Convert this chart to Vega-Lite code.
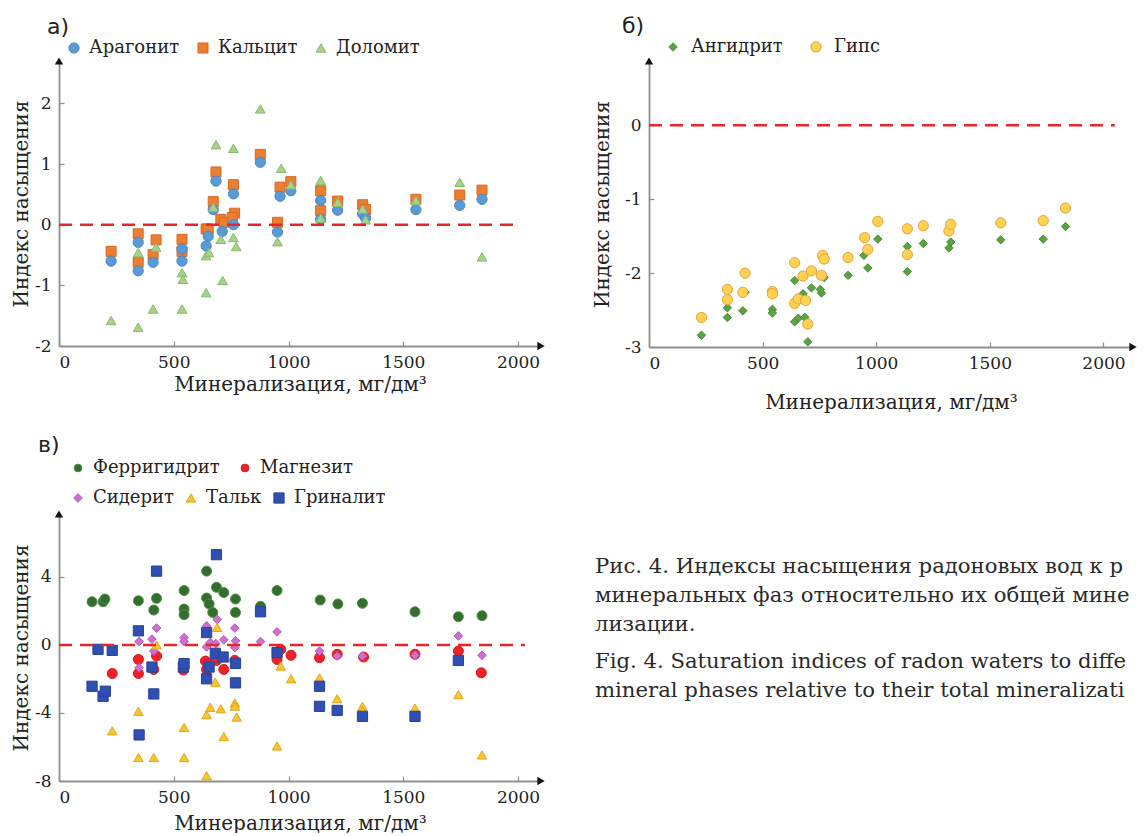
{
  "$schema": "https://vega.github.io/schema/vega-lite/v6.json",
  "padding": {"left": 11, "top": 15, "right": 0, "bottom": 0},
  "background": "white",
  "datasets": {
    "a": [
      {"m": "Кальцит", "x": 227, "y": -0.44}, {"m": "Кальцит", "x": 345, "y": -0.15}, {"m": "Кальцит", "x": 345, "y": -0.62}, {"m": "Кальцит", "x": 423, "y": -0.25}, {"m": "Кальцит", "x": 410, "y": -0.49}, {"m": "Кальцит", "x": 536, "y": -0.24}, {"m": "Кальцит", "x": 536, "y": -0.44}, {"m": "Кальцит", "x": 641, "y": -0.07}, {"m": "Кальцит", "x": 650, "y": -0.07}, {"m": "Кальцит", "x": 672, "y": 0.38}, {"m": "Кальцит", "x": 684, "y": 0.87}, {"m": "Кальцит", "x": 705, "y": 0.09}, {"m": "Кальцит", "x": 720, "y": 0.04}, {"m": "Кальцит", "x": 760, "y": 0.66}, {"m": "Кальцит", "x": 765, "y": 0.19}, {"m": "Кальцит", "x": 755, "y": 0.12}, {"m": "Кальцит", "x": 877, "y": 1.16}, {"m": "Кальцит", "x": 952, "y": 0.04}, {"m": "Кальцит", "x": 963, "y": 0.62}, {"m": "Кальцит", "x": 1010, "y": 0.71}, {"m": "Кальцит", "x": 1140, "y": 0.56}, {"m": "Кальцит", "x": 1140, "y": 0.23}, {"m": "Кальцит", "x": 1214, "y": 0.39}, {"m": "Кальцит", "x": 1323, "y": 0.33}, {"m": "Кальцит", "x": 1336, "y": 0.25}, {"m": "Кальцит", "x": 1555, "y": 0.42}, {"m": "Кальцит", "x": 1746, "y": 0.49}, {"m": "Кальцит", "x": 1843, "y": 0.57},
      {"m": "Арагонит", "x": 227, "y": -0.6}, {"m": "Арагонит", "x": 345, "y": -0.29}, {"m": "Арагонит", "x": 345, "y": -0.76}, {"m": "Арагонит", "x": 410, "y": -0.62}, {"m": "Арагонит", "x": 536, "y": -0.4}, {"m": "Арагонит", "x": 536, "y": -0.6}, {"m": "Арагонит", "x": 641, "y": -0.35}, {"m": "Арагонит", "x": 650, "y": -0.19}, {"m": "Арагонит", "x": 684, "y": 0.72}, {"m": "Арагонит", "x": 672, "y": 0.25}, {"m": "Арагонит", "x": 711, "y": -0.11}, {"m": "Арагонит", "x": 760, "y": 0.51}, {"m": "Арагонит", "x": 760, "y": 0.0}, {"m": "Арагонит", "x": 877, "y": 1.03}, {"m": "Арагонит", "x": 952, "y": -0.12}, {"m": "Арагонит", "x": 963, "y": 0.47}, {"m": "Арагонит", "x": 1010, "y": 0.56}, {"m": "Арагонит", "x": 1140, "y": 0.4}, {"m": "Арагонит", "x": 1140, "y": 0.09}, {"m": "Арагонит", "x": 1214, "y": 0.24}, {"m": "Арагонит", "x": 1323, "y": 0.18}, {"m": "Арагонит", "x": 1336, "y": 0.11}, {"m": "Арагонит", "x": 1555, "y": 0.25}, {"m": "Арагонит", "x": 1746, "y": 0.32}, {"m": "Арагонит", "x": 1843, "y": 0.42},
      {"m": "Доломит", "x": 227, "y": -1.58}, {"m": "Доломит", "x": 345, "y": -1.69}, {"m": "Доломит", "x": 345, "y": -0.46}, {"m": "Доломит", "x": 410, "y": -1.39}, {"m": "Доломит", "x": 423, "y": -0.37}, {"m": "Доломит", "x": 536, "y": -0.79}, {"m": "Доломит", "x": 540, "y": -0.9}, {"m": "Доломит", "x": 536, "y": -1.39}, {"m": "Доломит", "x": 641, "y": -1.12}, {"m": "Доломит", "x": 641, "y": -0.51}, {"m": "Доломит", "x": 653, "y": -0.46}, {"m": "Доломит", "x": 684, "y": 1.32}, {"m": "Доломит", "x": 672, "y": 0.29}, {"m": "Доломит", "x": 705, "y": -0.24}, {"m": "Доломит", "x": 713, "y": -0.92}, {"m": "Доломит", "x": 760, "y": 1.26}, {"m": "Доломит", "x": 760, "y": -0.21}, {"m": "Доломит", "x": 772, "y": -0.36}, {"m": "Доломит", "x": 877, "y": 1.91}, {"m": "Доломит", "x": 952, "y": -0.28}, {"m": "Доломит", "x": 968, "y": 0.93}, {"m": "Доломит", "x": 1010, "y": 0.66}, {"m": "Доломит", "x": 1140, "y": 0.73}, {"m": "Доломит", "x": 1140, "y": 0.11}, {"m": "Доломит", "x": 1214, "y": 0.37}, {"m": "Доломит", "x": 1323, "y": 0.26}, {"m": "Доломит", "x": 1336, "y": 0.08}, {"m": "Доломит", "x": 1555, "y": 0.4}, {"m": "Доломит", "x": 1746, "y": 0.7}, {"m": "Доломит", "x": 1843, "y": -0.53}
    ],
    "b": [
      {"m": "Ангидрит", "x": 231, "y": -2.84}, {"m": "Ангидрит", "x": 345, "y": -2.47}, {"m": "Ангидрит", "x": 345, "y": -2.6}, {"m": "Ангидрит", "x": 413, "y": -2.51}, {"m": "Ангидрит", "x": 423, "y": -2.26}, {"m": "Ангидрит", "x": 543, "y": -2.49}, {"m": "Ангидрит", "x": 543, "y": -2.54}, {"m": "Ангидрит", "x": 641, "y": -2.1}, {"m": "Ангидрит", "x": 641, "y": -2.66}, {"m": "Ангидрит", "x": 657, "y": -2.61}, {"m": "Ангидрит", "x": 678, "y": -2.28}, {"m": "Ангидрит", "x": 686, "y": -2.6}, {"m": "Ангидрит", "x": 699, "y": -2.93}, {"m": "Ангидрит", "x": 715, "y": -2.2}, {"m": "Ангидрит", "x": 759, "y": -2.27}, {"m": "Ангидрит", "x": 754, "y": -2.22}, {"m": "Ангидрит", "x": 771, "y": -2.06}, {"m": "Ангидрит", "x": 876, "y": -2.03}, {"m": "Ангидрит", "x": 946, "y": -1.76}, {"m": "Ангидрит", "x": 963, "y": -1.93}, {"m": "Ангидрит", "x": 1007, "y": -1.54}, {"m": "Ангидрит", "x": 1137, "y": -1.64}, {"m": "Ангидрит", "x": 1137, "y": -1.98}, {"m": "Ангидрит", "x": 1207, "y": -1.6}, {"m": "Ангидрит", "x": 1320, "y": -1.66}, {"m": "Ангидрит", "x": 1328, "y": -1.58}, {"m": "Ангидрит", "x": 1548, "y": -1.55}, {"m": "Ангидрит", "x": 1735, "y": -1.54}, {"m": "Ангидрит", "x": 1833, "y": -1.37},
      {"m": "Гипс", "x": 231, "y": -2.6}, {"m": "Гипс", "x": 345, "y": -2.22}, {"m": "Гипс", "x": 345, "y": -2.36}, {"m": "Гипс", "x": 413, "y": -2.26}, {"m": "Гипс", "x": 423, "y": -2.0}, {"m": "Гипс", "x": 543, "y": -2.25}, {"m": "Гипс", "x": 543, "y": -2.28}, {"m": "Гипс", "x": 641, "y": -1.86}, {"m": "Гипс", "x": 641, "y": -2.41}, {"m": "Гипс", "x": 657, "y": -2.35}, {"m": "Гипс", "x": 678, "y": -2.04}, {"m": "Гипс", "x": 689, "y": -2.37}, {"m": "Гипс", "x": 699, "y": -2.69}, {"m": "Гипс", "x": 715, "y": -1.97}, {"m": "Гипс", "x": 759, "y": -2.03}, {"m": "Гипс", "x": 764, "y": -1.76}, {"m": "Гипс", "x": 771, "y": -1.81}, {"m": "Гипс", "x": 876, "y": -1.79}, {"m": "Гипс", "x": 949, "y": -1.52}, {"m": "Гипс", "x": 963, "y": -1.68}, {"m": "Гипс", "x": 1007, "y": -1.3}, {"m": "Гипс", "x": 1137, "y": -1.4}, {"m": "Гипс", "x": 1137, "y": -1.75}, {"m": "Гипс", "x": 1207, "y": -1.36}, {"m": "Гипс", "x": 1320, "y": -1.43}, {"m": "Гипс", "x": 1328, "y": -1.34}, {"m": "Гипс", "x": 1548, "y": -1.32}, {"m": "Гипс", "x": 1735, "y": -1.29}, {"m": "Гипс", "x": 1833, "y": -1.12}
    ],
    "v1": [
      {"m": "Ферригидрит", "x": 144, "y": 2.54}, {"m": "Ферригидрит", "x": 192, "y": 2.54}, {"m": "Ферригидрит", "x": 200, "y": 2.7}, {"m": "Ферригидрит", "x": 346, "y": 2.6}, {"m": "Ферригидрит", "x": 413, "y": 2.05}, {"m": "Ферригидрит", "x": 425, "y": 2.74}, {"m": "Ферригидрит", "x": 545, "y": 3.2}, {"m": "Ферригидрит", "x": 545, "y": 2.11}, {"m": "Ферригидрит", "x": 545, "y": 1.78}, {"m": "Ферригидрит", "x": 643, "y": 4.34}, {"m": "Ферригидрит", "x": 643, "y": 2.76}, {"m": "Ферригидрит", "x": 654, "y": 2.41}, {"m": "Ферригидрит", "x": 670, "y": 1.91}, {"m": "Ферригидрит", "x": 686, "y": 3.39}, {"m": "Ферригидрит", "x": 718, "y": 3.08}, {"m": "Ферригидрит", "x": 769, "y": 2.7}, {"m": "Ферригидрит", "x": 769, "y": 1.91}, {"m": "Ферригидрит", "x": 878, "y": 2.27}, {"m": "Ферригидрит", "x": 950, "y": 3.2}, {"m": "Ферригидрит", "x": 1138, "y": 2.64}, {"m": "Ферригидрит", "x": 1215, "y": 2.41}, {"m": "Ферригидрит", "x": 1322, "y": 2.45}, {"m": "Ферригидрит", "x": 1551, "y": 1.95}, {"m": "Ферригидрит", "x": 1740, "y": 1.66}, {"m": "Ферригидрит", "x": 1843, "y": 1.72},
      {"m": "Магнезит", "x": 232, "y": -1.68}, {"m": "Магнезит", "x": 346, "y": -0.85}, {"m": "Магнезит", "x": 346, "y": -1.68}, {"m": "Магнезит", "x": 413, "y": -1.44}, {"m": "Магнезит", "x": 425, "y": -0.65}, {"m": "Магнезит", "x": 542, "y": -1.08}, {"m": "Магнезит", "x": 542, "y": -1.48}, {"m": "Магнезит", "x": 638, "y": -0.95}, {"m": "Магнезит", "x": 643, "y": -1.44}, {"m": "Магнезит", "x": 654, "y": -1.1}, {"m": "Магнезит", "x": 686, "y": -0.91}, {"m": "Магнезит", "x": 718, "y": -1.44}, {"m": "Магнезит", "x": 766, "y": -0.91}, {"m": "Магнезит", "x": 950, "y": -0.85}, {"m": "Магнезит", "x": 966, "y": -0.26}, {"m": "Магнезит", "x": 1011, "y": -0.61}, {"m": "Магнезит", "x": 1135, "y": -0.75}, {"m": "Магнезит", "x": 1212, "y": -0.55}, {"m": "Магнезит", "x": 1327, "y": -0.71}, {"m": "Магнезит", "x": 1551, "y": -0.55}, {"m": "Магнезит", "x": 1740, "y": -0.36}, {"m": "Магнезит", "x": 1840, "y": -1.64}
    ],
    "v2": [
      {"m": "Сидерит", "x": 349, "y": 0.2}, {"m": "Сидерит", "x": 349, "y": -1.34}, {"m": "Сидерит", "x": 405, "y": 0.34}, {"m": "Сидерит", "x": 425, "y": 0.99}, {"m": "Сидерит", "x": 413, "y": -0.36}, {"m": "Сидерит", "x": 545, "y": 0.43}, {"m": "Сидерит", "x": 545, "y": 0.2}, {"m": "Сидерит", "x": 643, "y": 1.12}, {"m": "Сидерит", "x": 643, "y": -0.12}, {"m": "Сидерит", "x": 659, "y": 0.14}, {"m": "Сидерит", "x": 689, "y": 1.5}, {"m": "Сидерит", "x": 683, "y": 0.08}, {"m": "Сидерит", "x": 718, "y": 0.3}, {"m": "Сидерит", "x": 766, "y": 0.99}, {"m": "Сидерит", "x": 769, "y": 0.24}, {"m": "Сидерит", "x": 766, "y": -0.16}, {"m": "Сидерит", "x": 878, "y": 0.2}, {"m": "Сидерит", "x": 950, "y": 0.77}, {"m": "Сидерит", "x": 1135, "y": -0.36}, {"m": "Сидерит", "x": 1212, "y": -0.65}, {"m": "Сидерит", "x": 1322, "y": -0.65}, {"m": "Сидерит", "x": 1551, "y": -0.61}, {"m": "Сидерит", "x": 1740, "y": 0.53}, {"m": "Сидерит", "x": 1843, "y": -0.61},
      {"m": "Тальк", "x": 232, "y": -5.05}, {"m": "Тальк", "x": 346, "y": -3.9}, {"m": "Тальк", "x": 346, "y": -6.62}, {"m": "Тальк", "x": 413, "y": -6.62}, {"m": "Тальк", "x": 425, "y": 0.0}, {"m": "Тальк", "x": 545, "y": -4.85}, {"m": "Тальк", "x": 545, "y": -6.62}, {"m": "Тальк", "x": 643, "y": -7.69}, {"m": "Тальк", "x": 643, "y": -4.1}, {"m": "Тальк", "x": 659, "y": -3.67}, {"m": "Тальк", "x": 681, "y": -2.19}, {"m": "Тальк", "x": 689, "y": 1.03}, {"m": "Тальк", "x": 705, "y": -3.75}, {"m": "Тальк", "x": 718, "y": -5.39}, {"m": "Тальк", "x": 766, "y": -3.41}, {"m": "Тальк", "x": 766, "y": -3.6}, {"m": "Тальк", "x": 774, "y": -4.24}, {"m": "Тальк", "x": 950, "y": -5.94}, {"m": "Тальк", "x": 966, "y": -1.24}, {"m": "Тальк", "x": 1011, "y": -1.99}, {"m": "Тальк", "x": 1135, "y": -1.93}, {"m": "Тальк", "x": 1212, "y": -3.16}, {"m": "Тальк", "x": 1322, "y": -3.61}, {"m": "Тальк", "x": 1322, "y": -3.85}, {"m": "Тальк", "x": 1551, "y": -3.71}, {"m": "Тальк", "x": 1740, "y": -2.92}, {"m": "Тальк", "x": 1843, "y": -6.47},
      {"m": "Гриналит", "x": 144, "y": -2.43}, {"m": "Гриналит", "x": 170, "y": -0.26}, {"m": "Гриналит", "x": 192, "y": -3.02}, {"m": "Гриналит", "x": 202, "y": -2.72}, {"m": "Гриналит", "x": 232, "y": -0.32}, {"m": "Гриналит", "x": 346, "y": 0.83}, {"m": "Гриналит", "x": 349, "y": -5.29}, {"m": "Гриналит", "x": 405, "y": -1.3}, {"m": "Гриналит", "x": 413, "y": -2.88}, {"m": "Гриналит", "x": 425, "y": 4.34}, {"m": "Гриналит", "x": 542, "y": -1.3}, {"m": "Гриналит", "x": 545, "y": -1.1}, {"m": "Гриналит", "x": 643, "y": 0.73}, {"m": "Гриналит", "x": 643, "y": -1.99}, {"m": "Гриналит", "x": 654, "y": -1.3}, {"m": "Гриналит", "x": 686, "y": 5.31}, {"m": "Гриналит", "x": 681, "y": -0.49}, {"m": "Гриналит", "x": 715, "y": -0.71}, {"m": "Гриналит", "x": 769, "y": -1.08}, {"m": "Гриналит", "x": 769, "y": -2.23}, {"m": "Гриналит", "x": 878, "y": 1.95}, {"m": "Гриналит", "x": 950, "y": -0.45}, {"m": "Гриналит", "x": 1135, "y": -2.43}, {"m": "Гриналит", "x": 1135, "y": -3.61}, {"m": "Гриналит", "x": 1212, "y": -3.85}, {"m": "Гриналит", "x": 1322, "y": -4.2}, {"m": "Гриналит", "x": 1551, "y": -4.2}, {"m": "Гриналит", "x": 1740, "y": -0.91}
    ],
    "cap": [
      {"p": 1, "t": "Рис. 4. Индексы насыщения радоновых вод к ряду\nминеральных фаз относительно их общей минера-\nлизации."},
      {"p": 2, "t": "Fig. 4. Saturation indices of radon waters to different\nmineral phases relative to their total mineralization."}
    ]
  },
  "resolve": {"scale": {"color": "independent", "shape": "independent", "stroke": "independent", "size": "independent"}},
  "spacing": 22,
  "vconcat": [
    {
      "spacing": 47,
      "resolve": {"scale": {"color": "independent", "shape": "independent", "stroke": "independent", "size": "independent"}},
      "hconcat": [
        {
          "width": 482, "height": 285,
          "title": {"text": "а)", "frame": "group", "dx": -12, "offset": 0},
          "layer": [
            {
              "data": {"name": "a"},
              "mark": {"type": "point", "filled": true, "opacity": 1, "strokeWidth": 1},
              "encoding": {
                "x": {"field": "x", "type": "quantitative", "scale": {"domain": [0, 2100], "nice": false, "zero": false}, "axis": {"values": [0, 500, 1000, 1500, 2000], "title": "Минерализация, мг/дм³", "labelExpr": "datum.value + ''", "titlePadding": 4}},
                "y": {"field": "y", "type": "quantitative", "scale": {"domain": [-2, 2.7], "nice": false, "zero": false}, "axis": {"values": [-2, -1, 0, 1, 2], "title": "Индекс насыщения", "labelExpr": "datum.value + ''", "titlePadding": 3}},
                "color": {"field": "m", "type": "nominal", "scale": {"domain": ["Арагонит", "Кальцит", "Доломит"], "range": ["#5b9bd5", "#ed7d31", "#a9d18e"]}, "legend": {"title": null, "orient": "none", "legendX": 6, "legendY": -22, "direction": "horizontal", "columnPadding": 14}},
                "shape": {"field": "m", "type": "nominal", "scale": {"domain": ["Арагонит", "Кальцит", "Доломит"], "range": ["circle", "square", "triangle-up"]}, "legend": {"title": null, "orient": "none", "legendX": 6, "legendY": -22, "direction": "horizontal", "columnPadding": 14}},
                "stroke": {"field": "m", "type": "nominal", "scale": {"domain": ["Арагонит", "Кальцит", "Доломит"], "range": ["#4a86c0", "#d56a22", "#86bb6b"]}, "legend": {"title": null, "orient": "none", "legendX": 6, "legendY": -22, "direction": "horizontal", "columnPadding": 14}},
                "size": {"field": "m", "type": "nominal", "scale": {"domain": ["Арагонит", "Кальцит", "Доломит"], "range": [105, 95, 110]}, "legend": null}
              }
            },
            {"data": {"values": [{}]}, "mark": {"type": "rule", "color": "#e8262a", "strokeDash": [13, 8], "strokeWidth": 2.5}, "encoding": {"y": {"datum": 0}, "x": {"datum": 0}, "x2": {"datum": 1990}}},
            {"data": {"values": [{}]}, "mark": {"type": "point", "shape": "triangle-up", "filled": true, "color": "#111", "size": 70, "opacity": 1}, "encoding": {"x": {"datum": 0}, "y": {"datum": 2.7}}},
            {"data": {"values": [{}]}, "mark": {"type": "point", "shape": "triangle-right", "filled": true, "color": "#111", "size": 70, "opacity": 1}, "encoding": {"x": {"datum": 2100}, "y": {"datum": -2}}}
          ]
        },
        {
          "width": 484, "height": 286,
          "title": {"text": "б)", "frame": "group", "dx": -27, "offset": 0},
          "layer": [
            {
              "data": {"name": "b"},
              "mark": {"type": "point", "filled": true, "opacity": 1, "strokeWidth": 1},
              "encoding": {
                "x": {"field": "x", "type": "quantitative", "scale": {"domain": [0, 2130], "nice": false, "zero": false}, "axis": {"values": [0, 500, 1000, 1500, 2000], "title": "Минерализация, мг/дм³", "labelExpr": "datum.value + ''", "titlePadding": 21}},
                "y": {"field": "y", "type": "quantitative", "scale": {"domain": [-3, 0.87], "nice": false, "zero": false}, "axis": {"values": [-3, -2, -1, 0], "title": "Индекс насыщения", "labelExpr": "datum.value + ''", "titlePadding": 12}},
                "color": {"field": "m", "type": "nominal", "scale": {"domain": ["Ангидрит", "Гипс"], "range": ["#5aa340", "#ffd34f"]}, "legend": {"title": null, "orient": "none", "legendX": 15, "legendY": -23, "direction": "horizontal", "columnPadding": 24, "labelOffset": 9}},
                "shape": {"field": "m", "type": "nominal", "scale": {"domain": ["Ангидрит", "Гипс"], "range": ["diamond", "circle"]}, "legend": {"title": null, "orient": "none", "legendX": 15, "legendY": -23, "direction": "horizontal", "columnPadding": 24, "labelOffset": 9}},
                "stroke": {"field": "m", "type": "nominal", "scale": {"domain": ["Ангидрит", "Гипс"], "range": ["#4a8c33", "#e8a040"]}, "legend": {"title": null, "orient": "none", "legendX": 15, "legendY": -23, "direction": "horizontal", "columnPadding": 24, "labelOffset": 9}},
                "size": {"field": "m", "type": "nominal", "scale": {"domain": ["Ангидрит", "Гипс"], "range": [70, 105]}, "legend": null}
              }
            },
            {"data": {"values": [{}]}, "mark": {"type": "rule", "color": "#e8262a", "strokeDash": [13, 8], "strokeWidth": 2.5}, "encoding": {"y": {"datum": 0}, "x": {"datum": 0}, "x2": {"datum": 2050}}},
            {"data": {"values": [{}]}, "mark": {"type": "point", "shape": "triangle-up", "filled": true, "color": "#111", "size": 70, "opacity": 1}, "encoding": {"x": {"datum": 0}, "y": {"datum": 0.87}}},
            {"data": {"values": [{}]}, "mark": {"type": "point", "shape": "triangle-right", "filled": true, "color": "#111", "size": 70, "opacity": 1}, "encoding": {"x": {"datum": 2130}, "y": {"datum": -3}}}
          ]
        }
      ]
    },
    {
      "spacing": 50,
      "resolve": {"scale": {"color": "independent", "shape": "independent", "stroke": "independent", "size": "independent"}},
      "hconcat": [
        {
          "width": 482, "height": 267,
          "title": {"text": "в)", "frame": "group", "dx": -21, "offset": 2},
          "layer": [
            {
              "data": {"name": "v1"},
              "mark": {"type": "point", "filled": true, "opacity": 1, "strokeWidth": 1, "size": 100},
              "encoding": {
                "x": {"field": "x", "type": "quantitative", "scale": {"domain": [0, 2100], "nice": false, "zero": false}, "axis": {"values": [0, 500, 1000, 1500, 2000], "title": "Минерализация, мг/дм³", "labelExpr": "datum.value + ''", "titlePadding": 8}},
                "y": {"field": "y", "type": "quantitative", "scale": {"domain": [-8, 7.7], "nice": false, "zero": false}, "axis": {"values": [-8, -6, -4, -2, 0, 2, 4, 6], "title": "Индекс насыщения", "labelExpr": "datum.value + ''", "titlePadding": 3, "labelOverlap": false, "labelSeparation": 0}},
                "color": {"field": "m", "type": "nominal", "scale": {"domain": ["Ферригидрит", "Магнезит"], "range": ["#336e2e", "#ee2228"]}, "legend": {"title": null, "orient": "none", "legendX": 10, "legendY": -55, "direction": "horizontal", "columnPadding": 16}},
                "shape": {"field": "m", "type": "nominal", "scale": {"domain": ["Ферригидрит", "Магнезит"], "range": ["circle", "circle"]}, "legend": {"title": null, "orient": "none", "legendX": 10, "legendY": -55, "direction": "horizontal", "columnPadding": 16}},
                "stroke": {"field": "m", "type": "nominal", "scale": {"domain": ["Ферригидрит", "Магнезит"], "range": ["#4f8f47", "#d01a1a"]}, "legend": {"title": null, "orient": "none", "legendX": 10, "legendY": -55, "direction": "horizontal", "columnPadding": 16}}
              }
            },
            {
              "data": {"name": "v2"},
              "mark": {"type": "point", "filled": true, "opacity": 1, "strokeWidth": 1},
              "encoding": {
                "x": {"field": "x", "type": "quantitative", "axis": {"values": [0, 500, 1000, 1500, 2000], "title": "Минерализация, мг/дм³", "labelExpr": "datum.value + ''", "titlePadding": 8}},
                "y": {"field": "y", "type": "quantitative", "axis": {"values": [-8, -6, -4, -2, 0, 2, 4, 6], "title": "Индекс насыщения", "labelExpr": "datum.value + ''", "titlePadding": 3, "labelOverlap": false, "labelSeparation": 0}},
                "color": {"field": "m", "type": "nominal", "scale": {"domain": ["Сидерит", "Тальк", "Гриналит"], "range": ["#cf6fd0", "#f7c531", "#2f4fb3"]}, "legend": {"title": null, "orient": "none", "legendX": 10, "legendY": -25, "direction": "horizontal", "columnPadding": 8}},
                "shape": {"field": "m", "type": "nominal", "scale": {"domain": ["Сидерит", "Тальк", "Гриналит"], "range": ["diamond", "triangle-up", "square"]}, "legend": {"title": null, "orient": "none", "legendX": 10, "legendY": -25, "direction": "horizontal", "columnPadding": 8}},
                "stroke": {"field": "m", "type": "nominal", "scale": {"domain": ["Сидерит", "Тальк", "Гриналит"], "range": ["#b85ab8", "#dfa818", "#2a4298"]}, "legend": {"title": null, "orient": "none", "legendX": 10, "legendY": -25, "direction": "horizontal", "columnPadding": 8}},
                "size": {"field": "m", "type": "nominal", "scale": {"domain": ["Сидерит", "Тальк", "Гриналит"], "range": [75, 105, 90]}, "legend": null}
              }
            },
            {"data": {"values": [{}]}, "mark": {"type": "rule", "color": "#e8262a", "strokeDash": [13, 8], "strokeWidth": 2.5}, "encoding": {"y": {"datum": 0}, "x": {"datum": 0}, "x2": {"datum": 2030}}},
            {"data": {"values": [{}]}, "mark": {"type": "point", "shape": "triangle-up", "filled": true, "color": "#111", "size": 70, "opacity": 1}, "encoding": {"x": {"datum": 0}, "y": {"datum": 7.7}}},
            {"data": {"values": [{}]}, "mark": {"type": "point", "shape": "triangle-right", "filled": true, "color": "#111", "size": 70, "opacity": 1}, "encoding": {"x": {"datum": 2100}, "y": {"datum": -8}}}
          ],
          "resolve": {"scale": {"color": "independent", "shape": "independent", "stroke": "independent", "size": "independent"}}
        },
        {
          "width": 540, "height": 267,
          "data": {"name": "cap"},
          "mark": {"type": "text", "align": "left", "baseline": "alphabetic", "font": "DejaVu Serif", "fontSize": 21.2, "lineHeight": 29, "lineBreak": "\n", "limit": 547, "ellipsis": " ", "color": "#2a2a2a"},
          "encoding": {
            "text": {"field": "t"},
            "y": {"field": "p", "type": "quantitative", "axis": null, "scale": {"domain": [0.3789, 3.1895], "reverse": true, "nice": false, "zero": false}},
            "x": {"datum": 0, "type": "quantitative", "scale": {"domain": [0, 1]}, "axis": null}
          }
        }
      ]
    }
  ],
  "config": {
    "font": "DejaVu Serif",
    "view": {"stroke": null},
    "axis": {"labelFont": "DejaVu Serif", "labelFontSize": 17, "labelColor": "#222", "titleFont": "DejaVu Serif", "titleFontSize": 20, "titleFontWeight": "normal", "titleColor": "#222", "domainColor": "#8f8f8f", "domainWidth": 1.8, "tickColor": "#8f8f8f", "tickSize": -5, "tickWidth": 1.2, "grid": false, "labelPadding": 13, "labelOverlap": false},
    "legend": {"labelFont": "DejaVu Serif", "labelFontSize": 18, "labelColor": "#222", "symbolSize": 60, "columnPadding": 10, "symbolStrokeWidth": 1, "labelOffset": 6, "padding": 0, "symbolOpacity": 1},
    "title": {"font": "DejaVu Sans", "fontSize": 22, "fontWeight": "normal", "anchor": "start", "color": "#222"}
  }
}
